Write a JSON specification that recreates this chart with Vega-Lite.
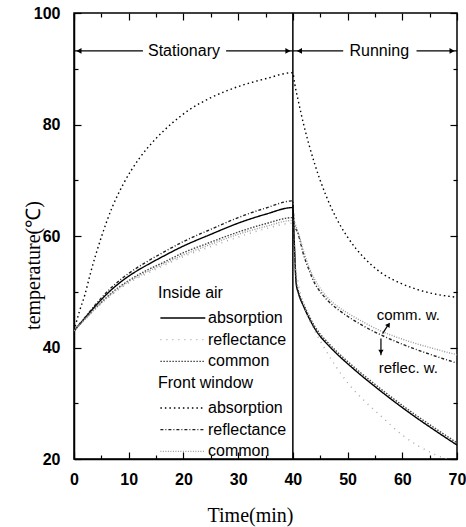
{
 "$schema": "https://vega.github.io/schema/vega-lite/v6.json",
 "width": 383, "height": 446,
 "autosize": {"type": "none"},
 "padding": {"left": 74, "top": 13, "right": 9, "bottom": 68},
 "background": "white",
 "config": {
  "view": {"stroke": "#000", "strokeWidth": 1.5},
  "axis": {"grid": false, "domainColor": "#000", "domainWidth": 1.5, "tickColor": "#000", "tickWidth": 1.2,
           "labelFont": "Liberation Sans", "labelFontWeight": "bold", "labelFontSize": 16, "labelColor": "#000",
           "titleFont": "Liberation Serif", "titleFontWeight": "normal", "titleFontSize": 20, "titleColor": "#000"},
  "text": {"font": "Liberation Sans", "fontSize": 16, "color": "#000"}
 },
 "datasets": {
  "curves": [
   {"group":"Inside air","type":"absorption","t":0,"v":43},{"group":"Inside air","type":"absorption","t":2,"v":45.3},{"group":"Inside air","type":"absorption","t":5,"v":48.6},{"group":"Inside air","type":"absorption","t":7,"v":50.5},{"group":"Inside air","type":"absorption","t":10,"v":52.8},{"group":"Inside air","type":"absorption","t":13,"v":54.6},{"group":"Inside air","type":"absorption","t":16,"v":56.2},{"group":"Inside air","type":"absorption","t":20,"v":58.2},{"group":"Inside air","type":"absorption","t":25,"v":60.3},{"group":"Inside air","type":"absorption","t":30,"v":62.3},{"group":"Inside air","type":"absorption","t":35,"v":63.9},{"group":"Inside air","type":"absorption","t":40,"v":65.1},{"group":"Inside air","type":"absorption","t":40.3,"v":58},{"group":"Inside air","type":"absorption","t":40.6,"v":51.5},{"group":"Inside air","type":"absorption","t":41,"v":49.8},{"group":"Inside air","type":"absorption","t":42,"v":47.3},{"group":"Inside air","type":"absorption","t":43,"v":45.2},{"group":"Inside air","type":"absorption","t":44,"v":43.4},{"group":"Inside air","type":"absorption","t":45,"v":42},{"group":"Inside air","type":"absorption","t":46,"v":40.9},{"group":"Inside air","type":"absorption","t":48,"v":38.9},{"group":"Inside air","type":"absorption","t":50,"v":37.1},{"group":"Inside air","type":"absorption","t":52,"v":35.4},{"group":"Inside air","type":"absorption","t":55,"v":33},{"group":"Inside air","type":"absorption","t":58,"v":30.7},{"group":"Inside air","type":"absorption","t":62,"v":27.8},{"group":"Inside air","type":"absorption","t":66,"v":25.1},{"group":"Inside air","type":"absorption","t":70,"v":22.5},
   {"group":"Inside air","type":"common","t":0,"v":43},{"group":"Inside air","type":"common","t":2,"v":45.1},{"group":"Inside air","type":"common","t":5,"v":48.1},{"group":"Inside air","type":"common","t":7,"v":49.9},{"group":"Inside air","type":"common","t":10,"v":52},{"group":"Inside air","type":"common","t":13,"v":53.7},{"group":"Inside air","type":"common","t":16,"v":55.1},{"group":"Inside air","type":"common","t":20,"v":57},{"group":"Inside air","type":"common","t":25,"v":58.9},{"group":"Inside air","type":"common","t":30,"v":60.7},{"group":"Inside air","type":"common","t":35,"v":62.2},{"group":"Inside air","type":"common","t":40,"v":63.3},{"group":"Inside air","type":"common","t":40.3,"v":57.5},{"group":"Inside air","type":"common","t":40.6,"v":52},{"group":"Inside air","type":"common","t":41,"v":50.2},{"group":"Inside air","type":"common","t":42,"v":47.7},{"group":"Inside air","type":"common","t":43,"v":45.6},{"group":"Inside air","type":"common","t":44,"v":43.8},{"group":"Inside air","type":"common","t":45,"v":42.4},{"group":"Inside air","type":"common","t":46,"v":41.3},{"group":"Inside air","type":"common","t":48,"v":39.3},{"group":"Inside air","type":"common","t":50,"v":37.5},{"group":"Inside air","type":"common","t":52,"v":35.8},{"group":"Inside air","type":"common","t":55,"v":33.4},{"group":"Inside air","type":"common","t":58,"v":31.1},{"group":"Inside air","type":"common","t":62,"v":28.2},{"group":"Inside air","type":"common","t":66,"v":25.5},{"group":"Inside air","type":"common","t":70,"v":22.9},
   {"group":"Inside air","type":"reflectance","t":0,"v":43},{"group":"Inside air","type":"reflectance","t":2,"v":45},{"group":"Inside air","type":"reflectance","t":5,"v":47.9},{"group":"Inside air","type":"reflectance","t":7,"v":49.5},{"group":"Inside air","type":"reflectance","t":10,"v":51.6},{"group":"Inside air","type":"reflectance","t":13,"v":53.1},{"group":"Inside air","type":"reflectance","t":16,"v":54.5},{"group":"Inside air","type":"reflectance","t":20,"v":56.3},{"group":"Inside air","type":"reflectance","t":25,"v":58.1},{"group":"Inside air","type":"reflectance","t":30,"v":59.8},{"group":"Inside air","type":"reflectance","t":35,"v":61.3},{"group":"Inside air","type":"reflectance","t":40,"v":62.3},{"group":"Inside air","type":"reflectance","t":40.3,"v":56},{"group":"Inside air","type":"reflectance","t":41,"v":51.5},{"group":"Inside air","type":"reflectance","t":42,"v":47.5},{"group":"Inside air","type":"reflectance","t":43,"v":45},{"group":"Inside air","type":"reflectance","t":44,"v":43},{"group":"Inside air","type":"reflectance","t":46,"v":39.5},{"group":"Inside air","type":"reflectance","t":48,"v":36.4},{"group":"Inside air","type":"reflectance","t":50,"v":33.7},{"group":"Inside air","type":"reflectance","t":53,"v":30.5},{"group":"Inside air","type":"reflectance","t":56,"v":27.8},{"group":"Inside air","type":"reflectance","t":60,"v":24.3},{"group":"Inside air","type":"reflectance","t":63,"v":22.3},{"group":"Inside air","type":"reflectance","t":66,"v":20.8},{"group":"Inside air","type":"reflectance","t":70,"v":19.4},
   {"group":"Front window","type":"absorption","t":0,"v":43},{"group":"Front window","type":"absorption","t":1,"v":46.5},{"group":"Front window","type":"absorption","t":2,"v":49.5},{"group":"Front window","type":"absorption","t":3,"v":53.3},{"group":"Front window","type":"absorption","t":5,"v":59.8},{"group":"Front window","type":"absorption","t":7,"v":65.2},{"group":"Front window","type":"absorption","t":9,"v":69.3},{"group":"Front window","type":"absorption","t":12,"v":74},{"group":"Front window","type":"absorption","t":15,"v":77.5},{"group":"Front window","type":"absorption","t":18,"v":80.3},{"group":"Front window","type":"absorption","t":21,"v":82.6},{"group":"Front window","type":"absorption","t":25,"v":84.8},{"group":"Front window","type":"absorption","t":30,"v":86.8},{"group":"Front window","type":"absorption","t":35,"v":88.2},{"group":"Front window","type":"absorption","t":40,"v":89.3},{"group":"Front window","type":"absorption","t":40.3,"v":87.5},{"group":"Front window","type":"absorption","t":41,"v":84.2},{"group":"Front window","type":"absorption","t":42,"v":79.9},{"group":"Front window","type":"absorption","t":43,"v":76.2},{"group":"Front window","type":"absorption","t":44,"v":72.9},{"group":"Front window","type":"absorption","t":46,"v":67.4},{"group":"Front window","type":"absorption","t":48,"v":63.1},{"group":"Front window","type":"absorption","t":50,"v":59.8},{"group":"Front window","type":"absorption","t":53,"v":56.1},{"group":"Front window","type":"absorption","t":56,"v":53.5},{"group":"Front window","type":"absorption","t":60,"v":51.4},{"group":"Front window","type":"absorption","t":65,"v":49.8},{"group":"Front window","type":"absorption","t":70,"v":49},
   {"group":"Front window","type":"reflectance","t":0,"v":43},{"group":"Front window","type":"reflectance","t":2,"v":45.4},{"group":"Front window","type":"reflectance","t":5,"v":48.9},{"group":"Front window","type":"reflectance","t":7,"v":50.9},{"group":"Front window","type":"reflectance","t":10,"v":53.3},{"group":"Front window","type":"reflectance","t":13,"v":55.2},{"group":"Front window","type":"reflectance","t":16,"v":56.9},{"group":"Front window","type":"reflectance","t":20,"v":59},{"group":"Front window","type":"reflectance","t":25,"v":61.2},{"group":"Front window","type":"reflectance","t":30,"v":63.3},{"group":"Front window","type":"reflectance","t":35,"v":65},{"group":"Front window","type":"reflectance","t":40,"v":66.3},{"group":"Front window","type":"reflectance","t":40.2,"v":62.5},{"group":"Front window","type":"reflectance","t":41,"v":60.3},{"group":"Front window","type":"reflectance","t":42,"v":56.5},{"group":"Front window","type":"reflectance","t":43,"v":53.8},{"group":"Front window","type":"reflectance","t":44,"v":51.5},{"group":"Front window","type":"reflectance","t":45,"v":50},{"group":"Front window","type":"reflectance","t":46,"v":48.8},{"group":"Front window","type":"reflectance","t":48,"v":47},{"group":"Front window","type":"reflectance","t":50,"v":45.6},{"group":"Front window","type":"reflectance","t":53,"v":43.8},{"group":"Front window","type":"reflectance","t":56,"v":42.3},{"group":"Front window","type":"reflectance","t":60,"v":40.6},{"group":"Front window","type":"reflectance","t":65,"v":38.8},{"group":"Front window","type":"reflectance","t":70,"v":37.2},
   {"group":"Front window","type":"common","t":0,"v":43},{"group":"Front window","type":"common","t":2,"v":45.1},{"group":"Front window","type":"common","t":5,"v":48},{"group":"Front window","type":"common","t":7,"v":49.7},{"group":"Front window","type":"common","t":10,"v":51.8},{"group":"Front window","type":"common","t":13,"v":53.4},{"group":"Front window","type":"common","t":16,"v":54.8},{"group":"Front window","type":"common","t":20,"v":56.6},{"group":"Front window","type":"common","t":25,"v":58.5},{"group":"Front window","type":"common","t":30,"v":60.3},{"group":"Front window","type":"common","t":35,"v":61.7},{"group":"Front window","type":"common","t":40,"v":62.8},{"group":"Front window","type":"common","t":41,"v":60.5},{"group":"Front window","type":"common","t":42,"v":57.2},{"group":"Front window","type":"common","t":43,"v":54.3},{"group":"Front window","type":"common","t":44,"v":52.2},{"group":"Front window","type":"common","t":45,"v":50.6},{"group":"Front window","type":"common","t":46,"v":49.3},{"group":"Front window","type":"common","t":48,"v":47.5},{"group":"Front window","type":"common","t":50,"v":46.2},{"group":"Front window","type":"common","t":53,"v":44.5},{"group":"Front window","type":"common","t":56,"v":43},{"group":"Front window","type":"common","t":60,"v":41.5},{"group":"Front window","type":"common","t":65,"v":40},{"group":"Front window","type":"common","t":70,"v":38.7}
  ]
 },
 "resolve": {"axis": {"x": "independent", "y": "independent"}, "scale": {"color": "independent", "strokeDash": "independent"}},
 "layer": [
  {
   "data": {"name": "curves"},
   "transform": [{"filter": "datum.group === 'Inside air'"}],
   "mark": {"type": "line", "clip": true, "interpolate": "monotone", "strokeWidth": 1.4},
   "encoding": {
    "x": {"field": "t", "type": "quantitative", "scale": {"domain": [0, 70], "nice": false, "zero": false},
          "axis": {"orient": "bottom", "values": [0,5,10,15,20,25,30,35,40,45,50,55,60,65,70],
                   "labelExpr": "datum.value % 10 === 0 ? datum.label : ''",
                   "tickSize": {"condition": {"test": "datum.value % 10 === 0", "value": -7}, "value": -4},
                   "labelPadding": 19, "labelOverlap": false, "labelFlush": false,
                   "title": "Time(min)", "titleX": 176, "titleY": 56, "titleBaseline": "middle", "titleAlign": "center"}},
    "y": {"field": "v", "type": "quantitative", "scale": {"domain": [20, 100], "nice": false, "zero": false},
          "axis": {"orient": "left", "values": [20,30,40,50,60,70,80,90,100],
                   "labelExpr": "datum.value % 20 === 0 ? datum.label : ''",
                   "tickSize": {"condition": {"test": "datum.value % 20 === 0", "value": -7}, "value": -4},
                   "labelPadding": 21, "labelOverlap": false, "labelFlush": false,
                   "title": "temperature(℃)", "titleX": -41, "titleY": 252, "titleAngle": -90, "titleAlign": "center", "titleBaseline": "middle"}},
    "color": {"field": "type", "type": "nominal",
              "scale": {"domain": ["absorption", "reflectance", "common"], "range": ["#000000", "#a8a8a8", "#444444"]},
              "legend": {"title": "Inside air", "orient": "none", "legendX": 84, "legendY": 272, "padding": 0,
                         "symbolType": "M-1,0H7", "symbolSize": 126, "symbolStrokeWidth": 1.3, "labelOffset": 34,
                         "labelFont": "Liberation Sans", "labelFontSize": 16, "labelColor": "#000",
                         "titleFont": "Liberation Sans", "titleFontSize": 16, "titleFontWeight": "normal", "titleColor": "#000",
                         "titlePadding": 9, "rowPadding": 5.7}},
    "strokeDash": {"field": "type", "type": "nominal",
              "scale": {"domain": ["absorption", "reflectance", "common"], "range": [[1, 0], [1, 5], [1.5, 1.5]]},
              "legend": {"title": "Inside air", "orient": "none", "legendX": 84, "legendY": 272, "padding": 0,
                         "symbolType": "M-1,0H7", "symbolSize": 126, "symbolStrokeWidth": 1.3, "labelOffset": 34,
                         "labelFont": "Liberation Sans", "labelFontSize": 16, "labelColor": "#000",
                         "titleFont": "Liberation Sans", "titleFontSize": 16, "titleFontWeight": "normal", "titleColor": "#000",
                         "titlePadding": 9, "rowPadding": 5.7}},
    "order": {"field": "t", "type": "quantitative"}
   }
  },
  {
   "data": {"name": "curves"},
   "transform": [{"filter": "datum.group === 'Front window'"}],
   "mark": {"type": "line", "clip": true, "interpolate": "monotone", "strokeWidth": 1.4},
   "encoding": {
    "x": {"field": "t", "type": "quantitative", "scale": {"domain": [0, 70], "nice": false, "zero": false},
          "axis": {"orient": "top", "values": [0,5,10,15,20,25,30,35,40,45,50,55,60,65,70], "labels": false, "title": null, "domain": false,
                   "tickSize": {"condition": {"test": "datum.value % 10 === 0", "value": -7}, "value": -4}}},
    "y": {"field": "v", "type": "quantitative", "scale": {"domain": [20, 100], "nice": false, "zero": false},
          "axis": {"orient": "right", "values": [20,30,40,50,60,70,80,90,100], "labels": false, "title": null, "domain": false,
                   "tickSize": {"condition": {"test": "datum.value % 20 === 0", "value": -7}, "value": -4}}},
    "color": {"field": "type", "type": "nominal",
              "scale": {"domain": ["absorption", "reflectance", "common"], "range": ["#000000", "#222222", "#9a9a9a"]},
              "legend": {"title": "Front window", "orient": "none", "legendX": 84, "legendY": 362, "padding": 0,
                         "symbolType": "M-1,0H7", "symbolSize": 126, "symbolStrokeWidth": 1.3, "labelOffset": 34,
                         "labelFont": "Liberation Sans", "labelFontSize": 16, "labelColor": "#000",
                         "titleFont": "Liberation Sans", "titleFontSize": 16, "titleFontWeight": "normal", "titleColor": "#000",
                         "titlePadding": 9, "rowPadding": 5.7}},
    "strokeDash": {"field": "type", "type": "nominal",
              "scale": {"domain": ["absorption", "reflectance", "common"], "range": [[1.5, 3], [3, 2, 1, 2], [1, 1.5]]},
              "legend": {"title": "Front window", "orient": "none", "legendX": 84, "legendY": 362, "padding": 0,
                         "symbolType": "M-1,0H7", "symbolSize": 126, "symbolStrokeWidth": 1.3, "labelOffset": 34,
                         "labelFont": "Liberation Sans", "labelFontSize": 16, "labelColor": "#000",
                         "titleFont": "Liberation Sans", "titleFontSize": 16, "titleFontWeight": "normal", "titleColor": "#000",
                         "titlePadding": 9, "rowPadding": 5.7}},
    "order": {"field": "t", "type": "quantitative"}
   }
  },
  {"data": {"values": [{}]}, "mark": {"type": "rule", "color": "#000", "strokeWidth": 1.5},
   "encoding": {"x": {"datum": 40, "type": "quantitative", "axis": null}}},
  {"data": {"values": [{}]}, "mark": {"type": "rule", "color": "#000", "strokeWidth": 1.2},
   "encoding": {"x": {"datum": 0, "type": "quantitative", "axis": null}, "x2": {"datum": 12.6}, "y": {"datum": 93.2, "type": "quantitative", "axis": null}}},
  {"data": {"values": [{}]}, "mark": {"type": "rule", "color": "#000", "strokeWidth": 1.2},
   "encoding": {"x": {"datum": 27.8, "type": "quantitative", "axis": null}, "x2": {"datum": 40}, "y": {"datum": 93.2, "type": "quantitative", "axis": null}}},
  {"data": {"values": [{}]}, "mark": {"type": "rule", "color": "#000", "strokeWidth": 1.2},
   "encoding": {"x": {"datum": 40, "type": "quantitative", "axis": null}, "x2": {"datum": 49.2}, "y": {"datum": 93.2, "type": "quantitative", "axis": null}}},
  {"data": {"values": [{}]}, "mark": {"type": "rule", "color": "#000", "strokeWidth": 1.2},
   "encoding": {"x": {"datum": 62.6, "type": "quantitative", "axis": null}, "x2": {"datum": 70}, "y": {"datum": 93.2, "type": "quantitative", "axis": null}}},
  {"data": {"values": [{}]}, "mark": {"type": "point", "shape": "triangle-left", "filled": true, "color": "#000", "size": 35, "opacity": 1},
   "encoding": {"x": {"datum": 0.9, "type": "quantitative", "axis": null}, "y": {"datum": 93.2, "type": "quantitative", "axis": null}}},
  {"data": {"values": [{}]}, "mark": {"type": "point", "shape": "triangle-right", "filled": true, "color": "#000", "size": 35, "opacity": 1},
   "encoding": {"x": {"datum": 39.1, "type": "quantitative", "axis": null}, "y": {"datum": 93.2, "type": "quantitative", "axis": null}}},
  {"data": {"values": [{}]}, "mark": {"type": "point", "shape": "triangle-left", "filled": true, "color": "#000", "size": 35, "opacity": 1},
   "encoding": {"x": {"datum": 41.2, "type": "quantitative", "axis": null}, "y": {"datum": 93.2, "type": "quantitative", "axis": null}}},
  {"data": {"values": [{}]}, "mark": {"type": "point", "shape": "triangle-right", "filled": true, "color": "#000", "size": 35, "opacity": 1},
   "encoding": {"x": {"datum": 69.1, "type": "quantitative", "axis": null}, "y": {"datum": 93.2, "type": "quantitative", "axis": null}}},
  {"data": {"values": [{}]}, "mark": {"type": "text", "text": "Stationary", "align": "center", "baseline": "middle"},
   "encoding": {"x": {"datum": 20.1, "type": "quantitative", "axis": null}, "y": {"datum": 93.2, "type": "quantitative", "axis": null}}},
  {"data": {"values": [{}]}, "mark": {"type": "text", "text": "Running", "align": "center", "baseline": "middle"},
   "encoding": {"x": {"datum": 55.8, "type": "quantitative", "axis": null}, "y": {"datum": 93.2, "type": "quantitative", "axis": null}}},
  {"data": {"values": [{}]}, "mark": {"type": "text", "text": "comm. w.", "align": "center", "baseline": "middle", "fontSize": 15},
   "encoding": {"x": {"datum": 61.1, "type": "quantitative", "axis": null}, "y": {"datum": 45.8, "type": "quantitative", "axis": null}}},
  {"data": {"values": [{}]}, "mark": {"type": "text", "text": "reflec. w.", "align": "center", "baseline": "middle", "fontSize": 15},
   "encoding": {"x": {"datum": 61.1, "type": "quantitative", "axis": null}, "y": {"datum": 36.3, "type": "quantitative", "axis": null}}},
  {"data": {"values": [{}]}, "mark": {"type": "rule", "color": "#000", "strokeWidth": 1.2},
   "encoding": {"x": {"datum": 56.4, "type": "quantitative", "axis": null}, "x2": {"datum": 57.5}, "y": {"datum": 42.5, "type": "quantitative", "axis": null}, "y2": {"datum": 44.2}}},
  {"data": {"values": [{}]}, "mark": {"type": "point", "shape": "triangle-up", "filled": true, "color": "#000", "size": 28, "angle": 33, "opacity": 1},
   "encoding": {"x": {"datum": 57.5, "type": "quantitative", "axis": null}, "y": {"datum": 44.1, "type": "quantitative", "axis": null}}},
  {"data": {"values": [{}]}, "mark": {"type": "rule", "color": "#000", "strokeWidth": 1.2},
   "encoding": {"x": {"datum": 56.1, "type": "quantitative", "axis": null}, "y": {"datum": 41.6, "type": "quantitative", "axis": null}, "y2": {"datum": 38.6}}},
  {"data": {"values": [{}]}, "mark": {"type": "point", "shape": "triangle-down", "filled": true, "color": "#000", "size": 28, "opacity": 1},
   "encoding": {"x": {"datum": 56.1, "type": "quantitative", "axis": null}, "y": {"datum": 39.2, "type": "quantitative", "axis": null}}}
 ]
}
